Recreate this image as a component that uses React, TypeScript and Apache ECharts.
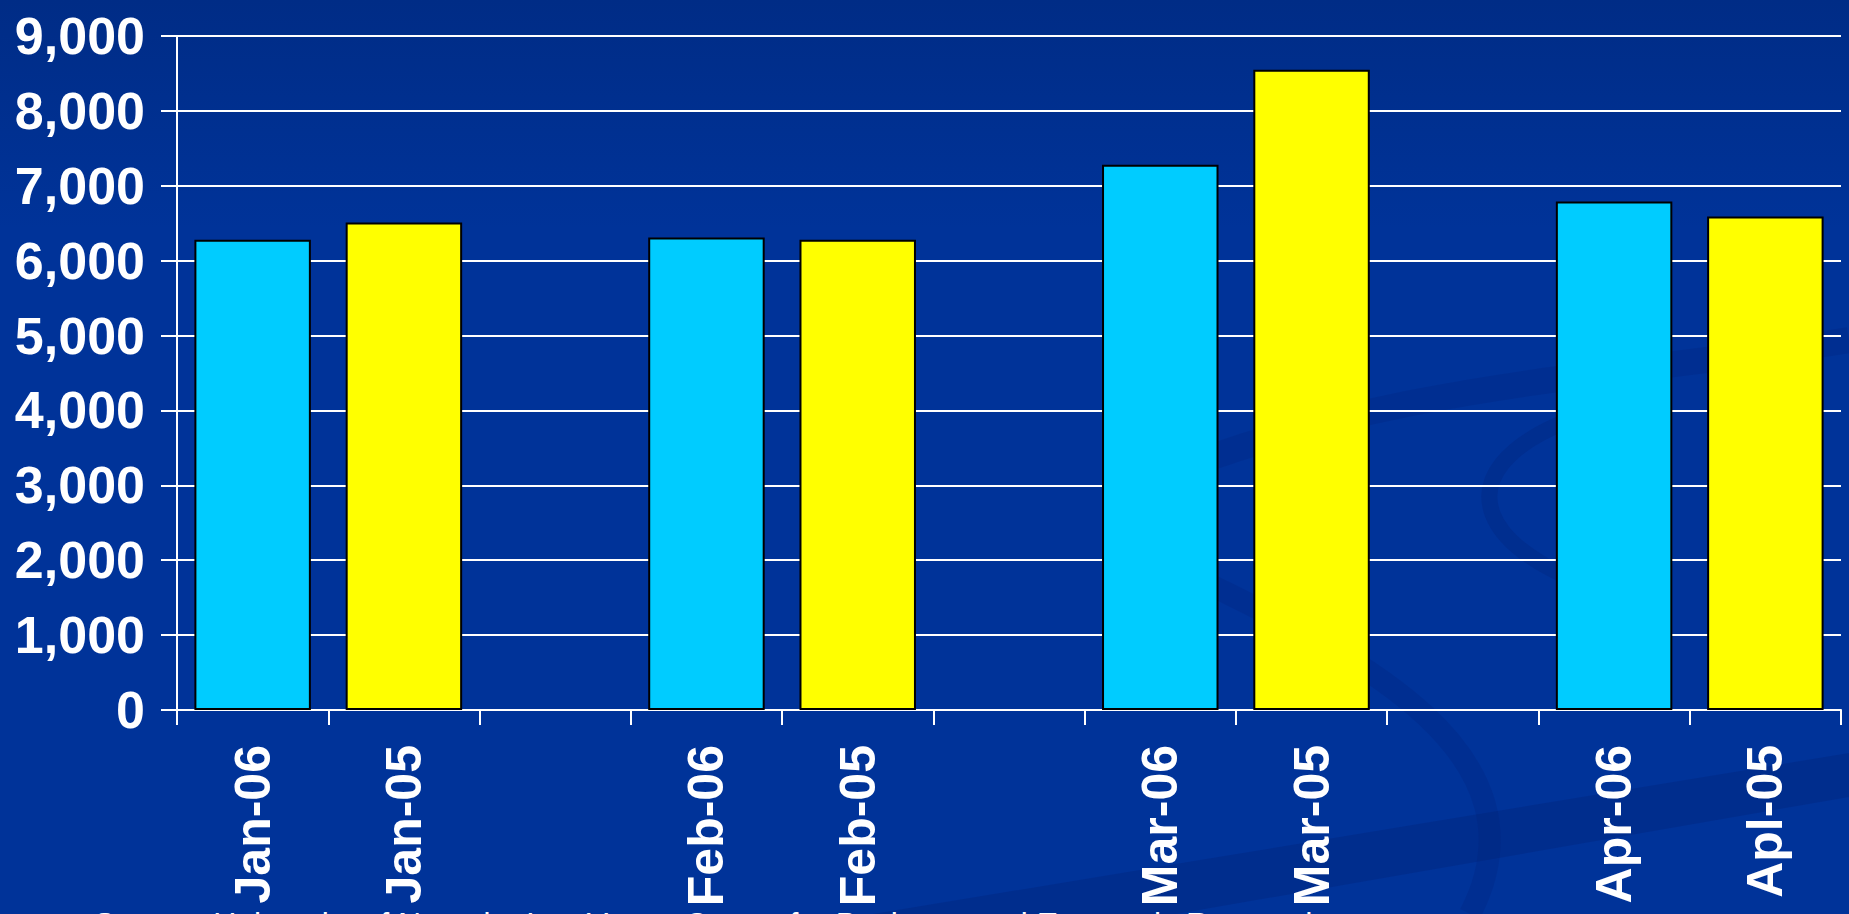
import React, { useEffect, useRef } from "react";
import * as echarts from "echarts";

// ---- data ----
const labels06 = ["Jan-06", "Feb-06", "Mar-06", "Apr-06"];
const labels05 = ["Jan-05", "Feb-05", "Mar-05", "Apl-05"];
const values06 = [6280, 6310, 7280, 6790];
const values05 = [6510, 6280, 8550, 6590];
const yMin = 0;
const yMax = 9000;
const yStep = 1000;
const sourceNote =
  "Source: University of Nevada, Las Vegas Center for Business and Economic Research";

export default function App() {
  const ref = useRef<HTMLDivElement>(null);

  useEffect(() => {
    document.body.style.margin = "0";
    if (!ref.current) return;
    const chart = echarts.init(ref.current, null, { renderer: "svg" });

    const categories: string[] = [];
    const d06: (number | string)[] = [];
    const d05: (number | string)[] = [];
    let blank = "";
    labels06.forEach((lab, i) => {
      categories.push(lab);
      d06.push(values06[i]);
      d05.push("-");
      categories.push(labels05[i]);
      d06.push("-");
      d05.push(values05[i]);
      if (i < labels06.length - 1) {
        blank += " ";
        categories.push(blank);
        d06.push("-");
        d05.push("-");
      }
    });

    const font = "'Liberation Sans', Arial, sans-serif";
    const band = "rgba(0, 32, 115, 0.3)";

    chart.setOption({
      animation: false,
      backgroundColor: new echarts.graphic.LinearGradient(0, 0, 0, 1, [
        { offset: 0, color: "#002C86" },
        { offset: 0.25, color: "#003399" },
        { offset: 1, color: "#003399" },
      ]),
      graphic: [
        {
          type: "polygon",
          z: -10,
          silent: true,
          shape: {
            points: [
              [873, 914],
              [1200, 860],
              [1849, 753],
              [1849, 797],
              [1176, 914],
            ],
          },
          style: { fill: band },
        },
        {
          type: "bezierCurve",
          z: -10,
          silent: true,
          shape: { x1: 1150, y1: 480, cpx1: 1400, cpy1: 380, cpx2: 1600, cpy2: 380, x2: 1849, y2: 340 },
          style: { stroke: "rgba(0, 32, 115, 0.2)", lineWidth: 26, fill: "none" },
        },
        {
          type: "bezierCurve",
          z: -10,
          silent: true,
          shape: { x1: 1570, y1: 420, cpx1: 1440, cpy1: 470, cpx2: 1470, cpy2: 560, x2: 1640, y2: 600 },
          style: { stroke: "rgba(0, 32, 115, 0.25)", lineWidth: 16, fill: "none" },
        },
        {
          type: "bezierCurve",
          z: -10,
          silent: true,
          shape: { x1: 1180, y1: 570, cpx1: 1320, cpy1: 640, cpx2: 1560, cpy2: 740, x2: 1470, y2: 914 },
          style: { stroke: "rgba(0, 32, 115, 0.2)", lineWidth: 22, fill: "none" },
        },
        {
          type: "text",
          left: 94,
          top: 908,
          silent: true,
          style: {
            text: sourceNote,
            fill: "#ffffff",
            font: `32px ${font}`,
          },
        },
      ],
      grid: { left: 177, right: 8, top: 36, bottom: 204, containLabel: false },
      xAxis: {
        type: "category",
        data: categories,
        boundaryGap: true,
        axisLine: { show: true, lineStyle: { color: "#ffffff", width: 2 } },
        axisTick: { show: true, length: 15, interval: 0, lineStyle: { color: "#ffffff", width: 2 } },
        axisLabel: {
          interval: 0,
          rotate: 90,
          margin: 35,
          color: "#ffffff",
          fontSize: 50,
          fontWeight: "bold",
          fontFamily: font,
        },
        splitLine: { show: false },
      },
      yAxis: {
        type: "value",
        min: yMin,
        max: yMax,
        interval: yStep,
        axisLine: { show: true, lineStyle: { color: "#ffffff", width: 2 } },
        axisTick: { show: true, length: 16, lineStyle: { color: "#ffffff", width: 2 } },
        axisLabel: {
          margin: 32,
          color: "#ffffff",
          fontSize: 52,
          fontWeight: "bold",
          fontFamily: font,
          formatter: (v: number) => v.toLocaleString("en-US"),
        },
        splitLine: { show: true, lineStyle: { color: "#ffffff", width: 2 } },
      },
      series: [
        {
          name: "2006",
          type: "bar",
          stack: "g",
          barWidth: "77%",
          data: d06,
          itemStyle: { color: "#00CCFF", borderColor: "#000000", borderWidth: 2 },
        },
        {
          name: "2005",
          type: "bar",
          stack: "g",
          barWidth: "77%",
          data: d05,
          itemStyle: { color: "#FFFF00", borderColor: "#000000", borderWidth: 2 },
        },
      ],
    });

    return () => chart.dispose();
  }, []);

  return (
    <div
      ref={ref}
      style={{ position: "fixed", left: 0, top: 0, width: 1849, height: 914 }}
    />
  );
}
